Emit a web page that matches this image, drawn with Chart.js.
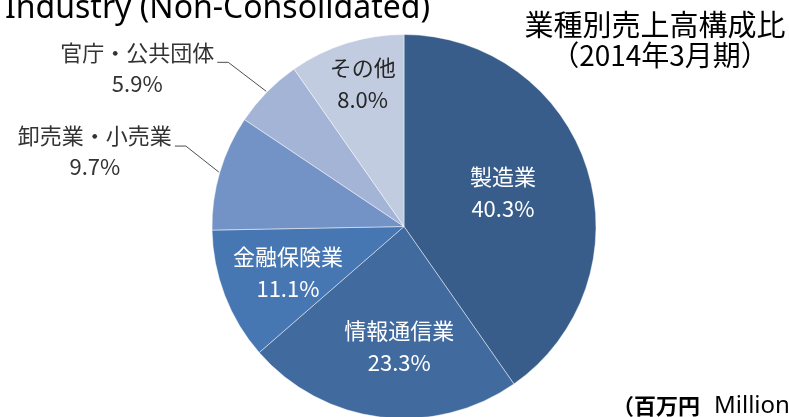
<!DOCTYPE html>
<html>
<head>
<meta charset="utf-8">
<script src="https://cdn.jsdelivr.net/npm/chart.js@4/dist/chart.umd.min.js"></script>
<style>
  html, body { margin: 0; padding: 0; background: #fff; overflow: hidden; }
  canvas { display: block; }
</style>
</head>
<body>
<canvas id="pieChart" width="789" height="417"></canvas>
<script>
/*---------------------------- data ------------------------------------*/
var industries = ['製造業', '情報通信業', '金融保険業', '卸売業・小売業', '官庁・公共団体', 'その他'];
// slice sizes as drawn in the picture (share of sales, %)
var shares = [40.3, 23.3, 11.1, 9.7, 5.9, 9.7];
// percentages as printed on the chart
var shareText = ['40.3%', '23.3%', '11.1%', '9.7%', '5.9%', '8.0%'];

var titleEn = 'Industry (Non-Consolidated)';
var titleJa = ['業種別売上高構成比', '（2014年3月期）'];
var unitNote = ['（百万円', 'Million'];

/*---------------------------- styles ------------------------------------*/
var sliceColors = ['#385d8a', '#416a9f', '#4777b3', '#7393c6', '#a3b4d6', '#c2cce1'];
var textColors = ['#ffffff', '#ffffff', '#ffffff', '#333333', '#333333', '#262626'];
// r = label radius as fraction of the pie radius, out = label outside with leader line
var labelPlace = [
  { r: 0.54, dx: 0, dy: -3 },
  { r: 0.63, dx: 10, dy: 0 },
  { r: 0.67, dx: 4, dy: 0 },
  { out: true, dx: -33, dy: -26 },
  { out: true, dx: -38, dy: -29 },
  { r: 0.77, dx: 3, dy: -2 }
];
var jaFont = '"Noto Sans CJK JP", "Noto Sans", sans-serif';

var labelPlugin = {
  id: 'sliceLabels',
  afterDraw: function (chart) {
    var ctx = chart.ctx;
    var arcs = chart.getDatasetMeta(0).data;
    ctx.save();
    ctx.textAlign = 'center';
    ctx.textBaseline = 'middle';
    ctx.font = '22px ' + jaFont;

    arcs.forEach(function (arc, i) {
      var p = arc.getProps(['x', 'y', 'startAngle', 'endAngle', 'outerRadius'], true);
      var mid = (p.startAngle + p.endAngle) / 2;
      var place = labelPlace[i];
      ctx.fillStyle = textColors[i];
      if (!place.out) {
        var cx = p.x + Math.cos(mid) * p.outerRadius * place.r + place.dx;
        var cy = p.y + Math.sin(mid) * p.outerRadius * place.r + place.dy;
        ctx.fillText(industries[i], cx, cy - 16);
        ctx.fillText(shareText[i], cx, cy + 16);
      } else {
        var ex = p.x + Math.cos(mid) * (p.outerRadius + 1);
        var ey = p.y + Math.sin(mid) * (p.outerRadius + 1);
        var bx = ex + place.dx;
        var by = ey + place.dy;
        ctx.strokeStyle = '#4d4d4d';
        ctx.lineWidth = 1;
        ctx.beginPath();
        ctx.moveTo(ex, ey);
        ctx.lineTo(bx, by);
        ctx.lineTo(bx - 11, by);
        ctx.stroke();
        var w = ctx.measureText(industries[i]).width;
        var tx = bx - 14 - w / 2;
        ctx.fillText(industries[i], tx, by - 10);
        ctx.fillText(shareText[i], tx, by + 21);
      }
    });

    // english heading, cut at the top edge
    ctx.fillStyle = '#000';
    ctx.textAlign = 'left';
    ctx.textBaseline = 'alphabetic';
    ctx.font = '33px "Noto Sans", sans-serif';
    var sx = 425 / ctx.measureText(titleEn).width;
    ctx.save();
    ctx.translate(5, 18);
    ctx.scale(sx, 1);
    ctx.fillText(titleEn, 0, 0);
    ctx.restore();

    // japanese heading
    ctx.textAlign = 'center';
    ctx.textBaseline = 'middle';
    ctx.font = '29px ' + jaFont;
    ctx.fillText(titleJa[0], 655, 25);
    ctx.font = '28px ' + jaFont;
    ctx.fillText(titleJa[1], 660, 55);

    // unit note, cut at the right edge
    ctx.textAlign = 'left';
    ctx.font = 'bold 22px ' + jaFont;
    ctx.fillText(unitNote[0], 612, 406);
    ctx.font = '24px "Noto Sans", sans-serif';
    ctx.fillText(unitNote[1], 714, 406);
    ctx.restore();
  }
};

new Chart('pieChart', {
  type: 'pie',
  data: {
    labels: industries,
    datasets: [{
      data: shares,
      backgroundColor: sliceColors,
      borderColor: 'rgba(255,255,255,0.45)',
      borderWidth: 1,
      radius: 192
    }]
  },
  options: {
    responsive: false,
    animation: false,
    events: [],
    layout: { padding: { top: 36, bottom: 0, left: 19, right: 0 } },
    plugins: {
      legend: { display: false },
      tooltip: { enabled: false }
    }
  },
  plugins: [labelPlugin]
});
</script>
</body>
</html>
